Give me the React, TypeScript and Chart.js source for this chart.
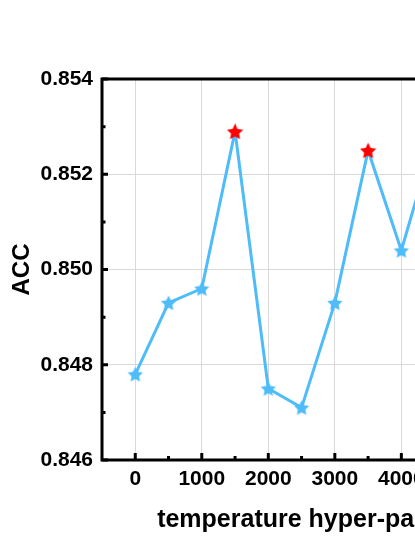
import React, { useEffect, useRef } from 'react';
import { Chart, registerables } from 'chart.js';

Chart.register(...registerables);

// ---- data ----
const temperatures = [0, 500, 1000, 1500, 2000, 2500, 3000, 3500, 4000, 4500, 5000];
const accValues = [0.8478, 0.8493, 0.8496, 0.8529, 0.8475, 0.8471, 0.8493, 0.8525, 0.8504, 0.8528, 0.8510];
const highlighted = [false, false, false, true, false, false, false, true, false, false, false];
const xMajorTicks = [0, 1000, 2000, 3000, 4000, 5000, 6000];
const xMinorTicks = [500, 1500, 2500, 3500, 4500, 5500];
const yMajorTicks = [0.846, 0.848, 0.85, 0.852, 0.854];
const yMinorTicks = [0.847, 0.849, 0.851, 0.853];
const xTitle = 'temperature hyper-parameter';
const yTitle = 'ACC';

const FONT = "'Liberation Sans', Arial, sans-serif";
const BLUE = '#4EBCF8';
const RED = '#FF0000';

function makeStar(color: string, size: number): HTMLCanvasElement {
  const c = document.createElement('canvas');
  c.width = size;
  c.height = size;
  const ctx = c.getContext('2d')!;
  const cx = size / 2;
  const cy = size / 2 + size * 0.05;
  const R = size / 2;
  const r = R * 0.5;
  ctx.beginPath();
  for (let i = 0; i < 10; i++) {
    const ang = -Math.PI / 2 + (i * Math.PI) / 5;
    const rad = i % 2 === 0 ? R : r;
    ctx.lineTo(cx + rad * Math.cos(ang), cy + rad * Math.sin(ang));
  }
  ctx.closePath();
  ctx.fillStyle = color;
  ctx.fill();
  return c;
}

const framePlugin = {
  id: 'originFrame',
  afterDraw(chart: any) {
    const { ctx, chartArea: a, scales } = chart;
    const x = scales.x;
    const y = scales.y;
    ctx.save();
    ctx.strokeStyle = '#000';
    ctx.lineWidth = 3;
    ctx.lineCap = 'butt';
    ctx.beginPath();
    xMajorTicks.forEach((v) => {
      const px = x.getPixelForValue(v);
      ctx.moveTo(px, a.bottom);
      ctx.lineTo(px, a.bottom - 7);
    });
    xMinorTicks.forEach((v) => {
      const px = x.getPixelForValue(v);
      ctx.moveTo(px, a.bottom);
      ctx.lineTo(px, a.bottom - 4);
    });
    yMajorTicks.forEach((v) => {
      const py = y.getPixelForValue(v);
      ctx.moveTo(a.left, py);
      ctx.lineTo(a.left + 6, py);
    });
    yMinorTicks.forEach((v) => {
      const py = y.getPixelForValue(v);
      ctx.moveTo(a.left, py);
      ctx.lineTo(a.left + 3.5, py);
    });
    ctx.stroke();
    ctx.strokeRect(a.left, a.top, a.right - a.left, a.bottom - a.top);
    ctx.restore();
  },
};

export default function App() {
  const canvasRef = useRef<HTMLCanvasElement | null>(null);

  useEffect(() => {
    if (!canvasRef.current) return;
    const blueStar = makeStar(BLUE, 16);
    const redStar = makeStar(RED, 17);
    const chart = new Chart(canvasRef.current, {
      type: 'line',
      data: {
        datasets: [
          {
            data: temperatures.map((t, i) => ({ x: t, y: accValues[i] })),
            borderColor: BLUE,
            borderWidth: 3,
            tension: 0,
            fill: false,
            pointStyle: highlighted.map((h) => (h ? redStar : blueStar)) as any,
            pointRadius: 8,
          },
        ],
      },
      options: {
        responsive: false,
        animation: false,
        layout: { padding: { left: 0, right: 22, top: 79, bottom: 0 } },
        plugins: { legend: { display: false }, tooltip: { enabled: false } },
        scales: {
          x: {
            type: 'linear',
            min: -500,
            max: 6400,
            afterBuildTicks: (s: any) => {
              s.ticks = xMajorTicks.map((v) => ({ value: v }));
            },
            afterFit: (s: any) => {
              s.height = 76;
            },
            grid: { color: '#d9d9d9', lineWidth: 1, drawTicks: false },
            border: { display: false },
            ticks: {
              padding: 7,
              color: '#000',
              font: { family: FONT, size: 21, weight: 'bold' },
              callback: (v: any) => String(v),
            },
            title: {
              display: true,
              text: xTitle,
              color: '#000',
              font: { family: FONT, size: 25, weight: 'bold' },
              padding: { top: 8, bottom: 1 },
            },
          },
          y: {
            type: 'linear',
            min: 0.846,
            max: 0.854,
            afterBuildTicks: (s: any) => {
              s.ticks = yMajorTicks.map((v) => ({ value: v }));
            },
            afterFit: (s: any) => {
              s.width = 102;
            },
            grid: { color: '#d9d9d9', lineWidth: 1, drawTicks: false },
            border: { display: false },
            ticks: {
              padding: 9,
              color: '#000',
              font: { family: FONT, size: 21, weight: 'bold' },
              callback: (v: any) => Number(v).toFixed(3),
            },
            title: {
              display: true,
              text: yTitle,
              color: '#000',
              font: { family: FONT, size: 24, weight: 'bold' },
              padding: { top: 8, bottom: 0 },
            },
          },
        },
      },
      plugins: [framePlugin],
    } as any);
    return () => chart.destroy();
  }, []);

  return (
    <div
      style={{
        position: 'fixed',
        left: 0,
        top: 0,
        width: 415,
        height: 537,
        overflow: 'hidden',
        background: '#fff',
      }}
    >
      <canvas ref={canvasRef} width={583} height={536} style={{ display: 'block' }} />
    </div>
  );
}
